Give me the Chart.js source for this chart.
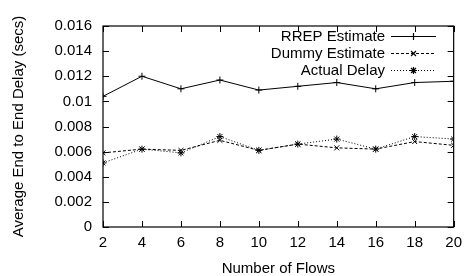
<!DOCTYPE html>
<html><head><meta charset="utf-8">
<script src="https://cdn.jsdelivr.net/npm/chart.js@4"></script>
<style>html,body{margin:0;padding:0;background:#fff;}#wrap{width:469px;height:276px;}</style>
</head><body><div id="wrap"><canvas id="c" width="469" height="276"></canvas></div>
<script>
const flows = [2,4,6,8,10,12,14,16,18,20];
const rrepEstimate = [0.0104,0.0120,0.0110,0.0117,0.0109,0.0112,0.0115,0.0110,0.0115,0.0116];
const dummyEstimate = [0.0059,0.0062,0.0061,0.0069,0.0061,0.0066,0.0063,0.0062,0.0068,0.0065];
const actualDelay = [0.0051,0.0062,0.0059,0.0072,0.0061,0.0066,0.0070,0.0062,0.0072,0.0070];
const xTicks = [2,4,6,8,10,12,14,16,18,20];
const yTicks = [0,0.002,0.004,0.006,0.008,0.01,0.012,0.014,0.016];
const seriesNames = ['RREP Estimate','Dummy Estimate','Actual Delay'];

const FONT = 'Liberation Sans, Arial, sans-serif';
const FS = 15;
const mk = (vals) => flows.map((f,i)=>({x:f,y:vals[i]}));

const inwardTicks = {
  id:'inwardTicks',
  afterDatasetsDraw(chart){
    const {ctx, chartArea:a, scales:{x,y}} = chart;
    ctx.save();
    ctx.strokeStyle='#000'; ctx.lineWidth=1;
    ctx.beginPath();
    const L=6;
    xTicks.forEach(v=>{const p=Math.round(x.getPixelForValue(v))+0.5;
      ctx.moveTo(p,a.bottom);ctx.lineTo(p,a.bottom-L);
      ctx.moveTo(p,a.top);ctx.lineTo(p,a.top+L);});
    yTicks.forEach(v=>{const p=Math.round(y.getPixelForValue(v))+0.5;
      ctx.moveTo(a.left,p);ctx.lineTo(a.left+L,p);
      ctx.moveTo(a.right,p);ctx.lineTo(a.right-L,p);});
    ctx.stroke();
    ctx.lineWidth=1.2;
    ctx.strokeRect(a.left,a.top,a.right-a.left,a.bottom-a.top);
    // legend
    ctx.font=FS+'px '+FONT; ctx.fillStyle='#000'; ctx.textAlign='right'; ctx.textBaseline='middle';
    const rows=[36,53,70];
    chart.data.datasets.forEach((ds,i)=>{
      const yy=rows[i];
      ctx.fillText(ds.label,385,yy+1);
      ctx.save();
      ctx.lineWidth=1; ctx.strokeStyle='#000';
      ctx.setLineDash(ds.borderDash||[]);
      ctx.beginPath();ctx.moveTo(391,yy+0.5);ctx.lineTo(436,yy+0.5);ctx.stroke();
      ctx.restore();
      Chart.helpers.drawPoint(ctx,{pointStyle:ds.pointStyle,radius:3.5,borderWidth:1},413.5,yy+0.5);
    });
    ctx.restore();
  }
};

new Chart(document.getElementById('c'),{
  type:'line',
  data:{datasets:[
    {label:seriesNames[0],data:mk(rrepEstimate),borderColor:'#000',backgroundColor:'#000',borderWidth:1,pointStyle:'cross',pointRadius:3.5,pointBorderWidth:1,tension:0},
    {label:seriesNames[1],data:mk(dummyEstimate),borderColor:'#000',backgroundColor:'#000',borderWidth:1,borderDash:[3,2],pointStyle:'crossRot',pointRadius:3.5,pointBorderWidth:1,tension:0},
    {label:seriesNames[2],data:mk(actualDelay),borderColor:'#000',backgroundColor:'#000',borderWidth:1,borderDash:[1,2],pointStyle:'star',pointRadius:3.5,pointBorderWidth:1,tension:0}
  ]},
  options:{
    responsive:false,animation:false,devicePixelRatio:1,
    layout:{padding:{left:0,right:14,top:26,bottom:0}},
    plugins:{legend:{display:false},tooltip:{enabled:false}},
    scales:{
      x:{type:'linear',min:2,max:20,
        afterBuildTicks(s){s.ticks=xTicks.map(v=>({value:v}));},
        afterFit(s){s.height=49;},
        grid:{display:false,drawTicks:false},border:{display:false},
        ticks:{color:'#000',font:{family:FONT,size:FS},padding:7,maxRotation:0},
        title:{display:true,text:'Number of Flows',color:'#000',font:{family:FONT,size:FS,lineHeight:1},padding:{top:0,bottom:0}}},
      y:{type:'linear',min:0,max:0.016,
        afterBuildTicks(s){s.ticks=yTicks.map(v=>({value:v}));},
        afterFit(s){s.width=103;},
        grid:{display:false,drawTicks:false},border:{display:false},
        ticks:{color:'#000',font:{family:FONT,size:FS},padding:11,callback:v=>String(parseFloat(v.toFixed(3)))},
        title:{display:true,text:'Average End to End Delay (secs)',color:'#000',font:{family:FONT,size:FS,lineHeight:1},padding:{top:11,bottom:0}}}
    }
  },
  plugins:[inwardTicks]
});
</script></body></html>
